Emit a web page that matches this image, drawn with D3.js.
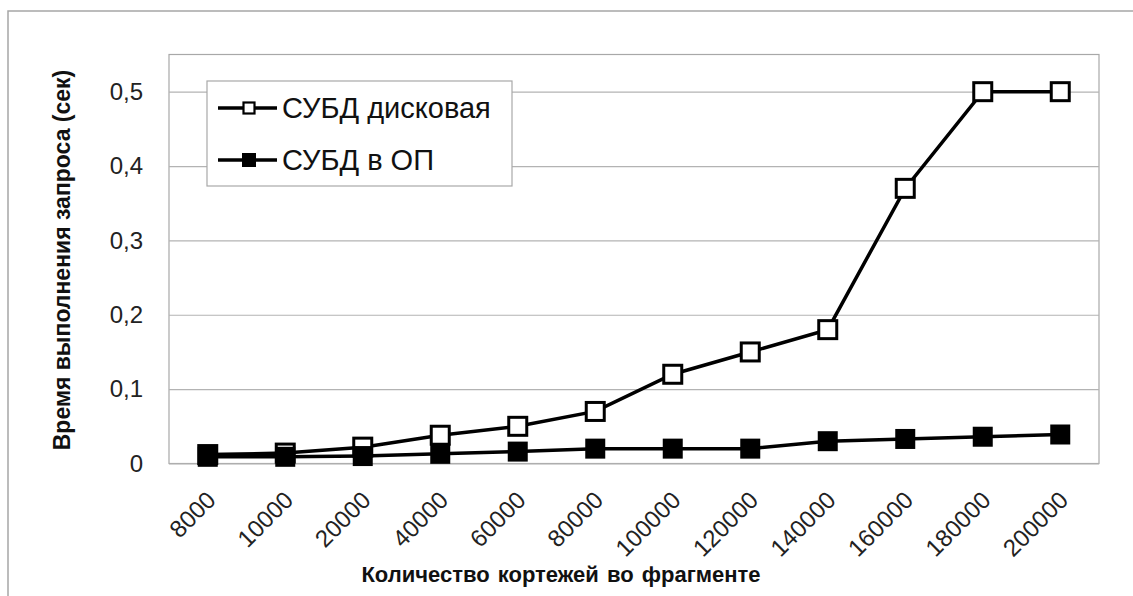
<!DOCTYPE html>
<html><head><meta charset="utf-8">
<script src="https://cdn.jsdelivr.net/npm/d3@7"></script>
<style>
html,body{margin:0;padding:0;background:#fff;}
svg{display:block;}
text{font-family:"Liberation Sans",Arial,sans-serif;}
</style></head>
<body>
<svg id="chart" width="1133" height="596"></svg>
<script>
const categories = ["8000","10000","20000","40000","60000","80000","100000","120000","140000","160000","180000","200000"];
const diskValues = [0.012,0.014,0.022,0.038,0.05,0.07,0.12,0.15,0.18,0.37,0.5,0.5];
const memValues  = [0.009,0.009,0.010,0.013,0.016,0.02,0.02,0.02,0.03,0.033,0.036,0.039];
const yTicks = [0,0.1,0.2,0.3,0.4,0.5];
const yMax = 0.55;
const seriesNames = ["СУБД дисковая","СУБД в ОП"];
const xTitle = "Количество кортежей во фрагменте";
const yTitle = "Время выполнения запроса (сек)";

const svg = d3.select("#chart");
const plot = {left:169, right:1099, top:54.5, bottom:463.5};

// outer frame
svg.append("rect").attr("x",8).attr("y",11).attr("width",1300).attr("height",800)
  .attr("fill","#fff").attr("stroke","#a6a6a6").attr("stroke-width",1.5);

const x = d3.scalePoint().domain(categories).range([plot.left, plot.right]).padding(0.5);
const y = d3.scaleLinear().domain([0,yMax]).range([plot.bottom, plot.top]);

// plot border
svg.append("rect").attr("x",plot.left).attr("y",plot.top)
  .attr("width",plot.right-plot.left).attr("height",plot.bottom-plot.top)
  .attr("fill","none").attr("stroke","#a8a8a8").attr("stroke-width",1.2);

// y axis with gridlines
const fmt = v => v===0 ? "0" : d3.format(".1f")(v).replace(".",",");
const yAxis = svg.append("g").attr("transform",`translate(${plot.left},0)`)
  .call(d3.axisLeft(y).tickValues(yTicks).tickSize(-(plot.right-plot.left)).tickPadding(26).tickFormat(fmt));
yAxis.select(".domain").remove();
yAxis.selectAll(".tick line").attr("stroke","#b3b3b3").attr("stroke-width",1.2);
yAxis.selectAll(".tick text").attr("font-size",24).attr("fill","#222")
  .style("font-family","'Liberation Sans',Arial,sans-serif");

// x axis
const xAxis = svg.append("g").attr("transform",`translate(0,${plot.bottom})`)
  .call(d3.axisBottom(x).tickSize(0));
xAxis.select(".domain").remove();
xAxis.selectAll(".tick text")
  .attr("x",null).attr("y",null).attr("dy","0.35em")
  .attr("text-anchor","end").attr("font-size",24).attr("fill","#222")
  .style("font-family","'Liberation Sans',Arial,sans-serif")
  .attr("transform","translate(3,32) rotate(-45)");

// axis titles
svg.append("text").attr("x",561).attr("y",582).attr("text-anchor","middle")
  .attr("font-size",22).attr("font-weight","bold").attr("fill","#111")
  .attr("word-spacing",2).text(xTitle);
svg.append("text").attr("transform",`translate(70,${(plot.top+plot.bottom)/2+1}) rotate(-90)`)
  .attr("text-anchor","middle").attr("font-size",23).attr("font-weight","bold").attr("fill","#111")
  .text(yTitle);

// lines
const line = d3.line().x((d,i)=>x(categories[i])).y(d=>y(d));
svg.append("path").datum(memValues).attr("d",line).attr("fill","none").attr("stroke","#000").attr("stroke-width",3.5);
svg.append("path").datum(diskValues).attr("d",line).attr("fill","none").attr("stroke","#000").attr("stroke-width",3.5);

const ms = 18;
svg.append("g").selectAll("rect").data(diskValues).join("rect")
  .attr("x",(d,i)=>x(categories[i])-ms/2).attr("y",d=>y(d)-ms/2)
  .attr("width",ms).attr("height",ms).attr("fill","#fff").attr("stroke","#000").attr("stroke-width",3);
svg.append("g").selectAll("rect").data(memValues).join("rect")
  .attr("x",(d,i)=>x(categories[i])-10).attr("y",d=>y(d)-10)
  .attr("width",20).attr("height",20).attr("fill","#000");

// legend
const lg = svg.append("g");
lg.append("rect").attr("x",207).attr("y",81).attr("width",305).attr("height",105)
  .attr("fill","#fff").attr("stroke","#a8a8a8").attr("stroke-width",1.2);
const rows = [108,160];
seriesNames.forEach((name,i)=>{
  const yy = rows[i];
  lg.append("line").attr("x1",218).attr("x2",277).attr("y1",yy).attr("y2",yy).attr("stroke","#000").attr("stroke-width",3.5);
  if(i===0){
    lg.append("rect").attr("x",249-5.5).attr("y",yy-5.5).attr("width",11).attr("height",11)
      .attr("fill","#fff").attr("stroke","#000").attr("stroke-width",2.2);
  } else {
    lg.append("rect").attr("x",249-7).attr("y",yy-7).attr("width",14).attr("height",14).attr("fill","#000");
  }
  lg.append("text").attr("x",282).attr("y",yy).attr("dy","0.36em").attr("font-size",29).attr("fill","#111").text(name);
});
</script>
</body></html>
